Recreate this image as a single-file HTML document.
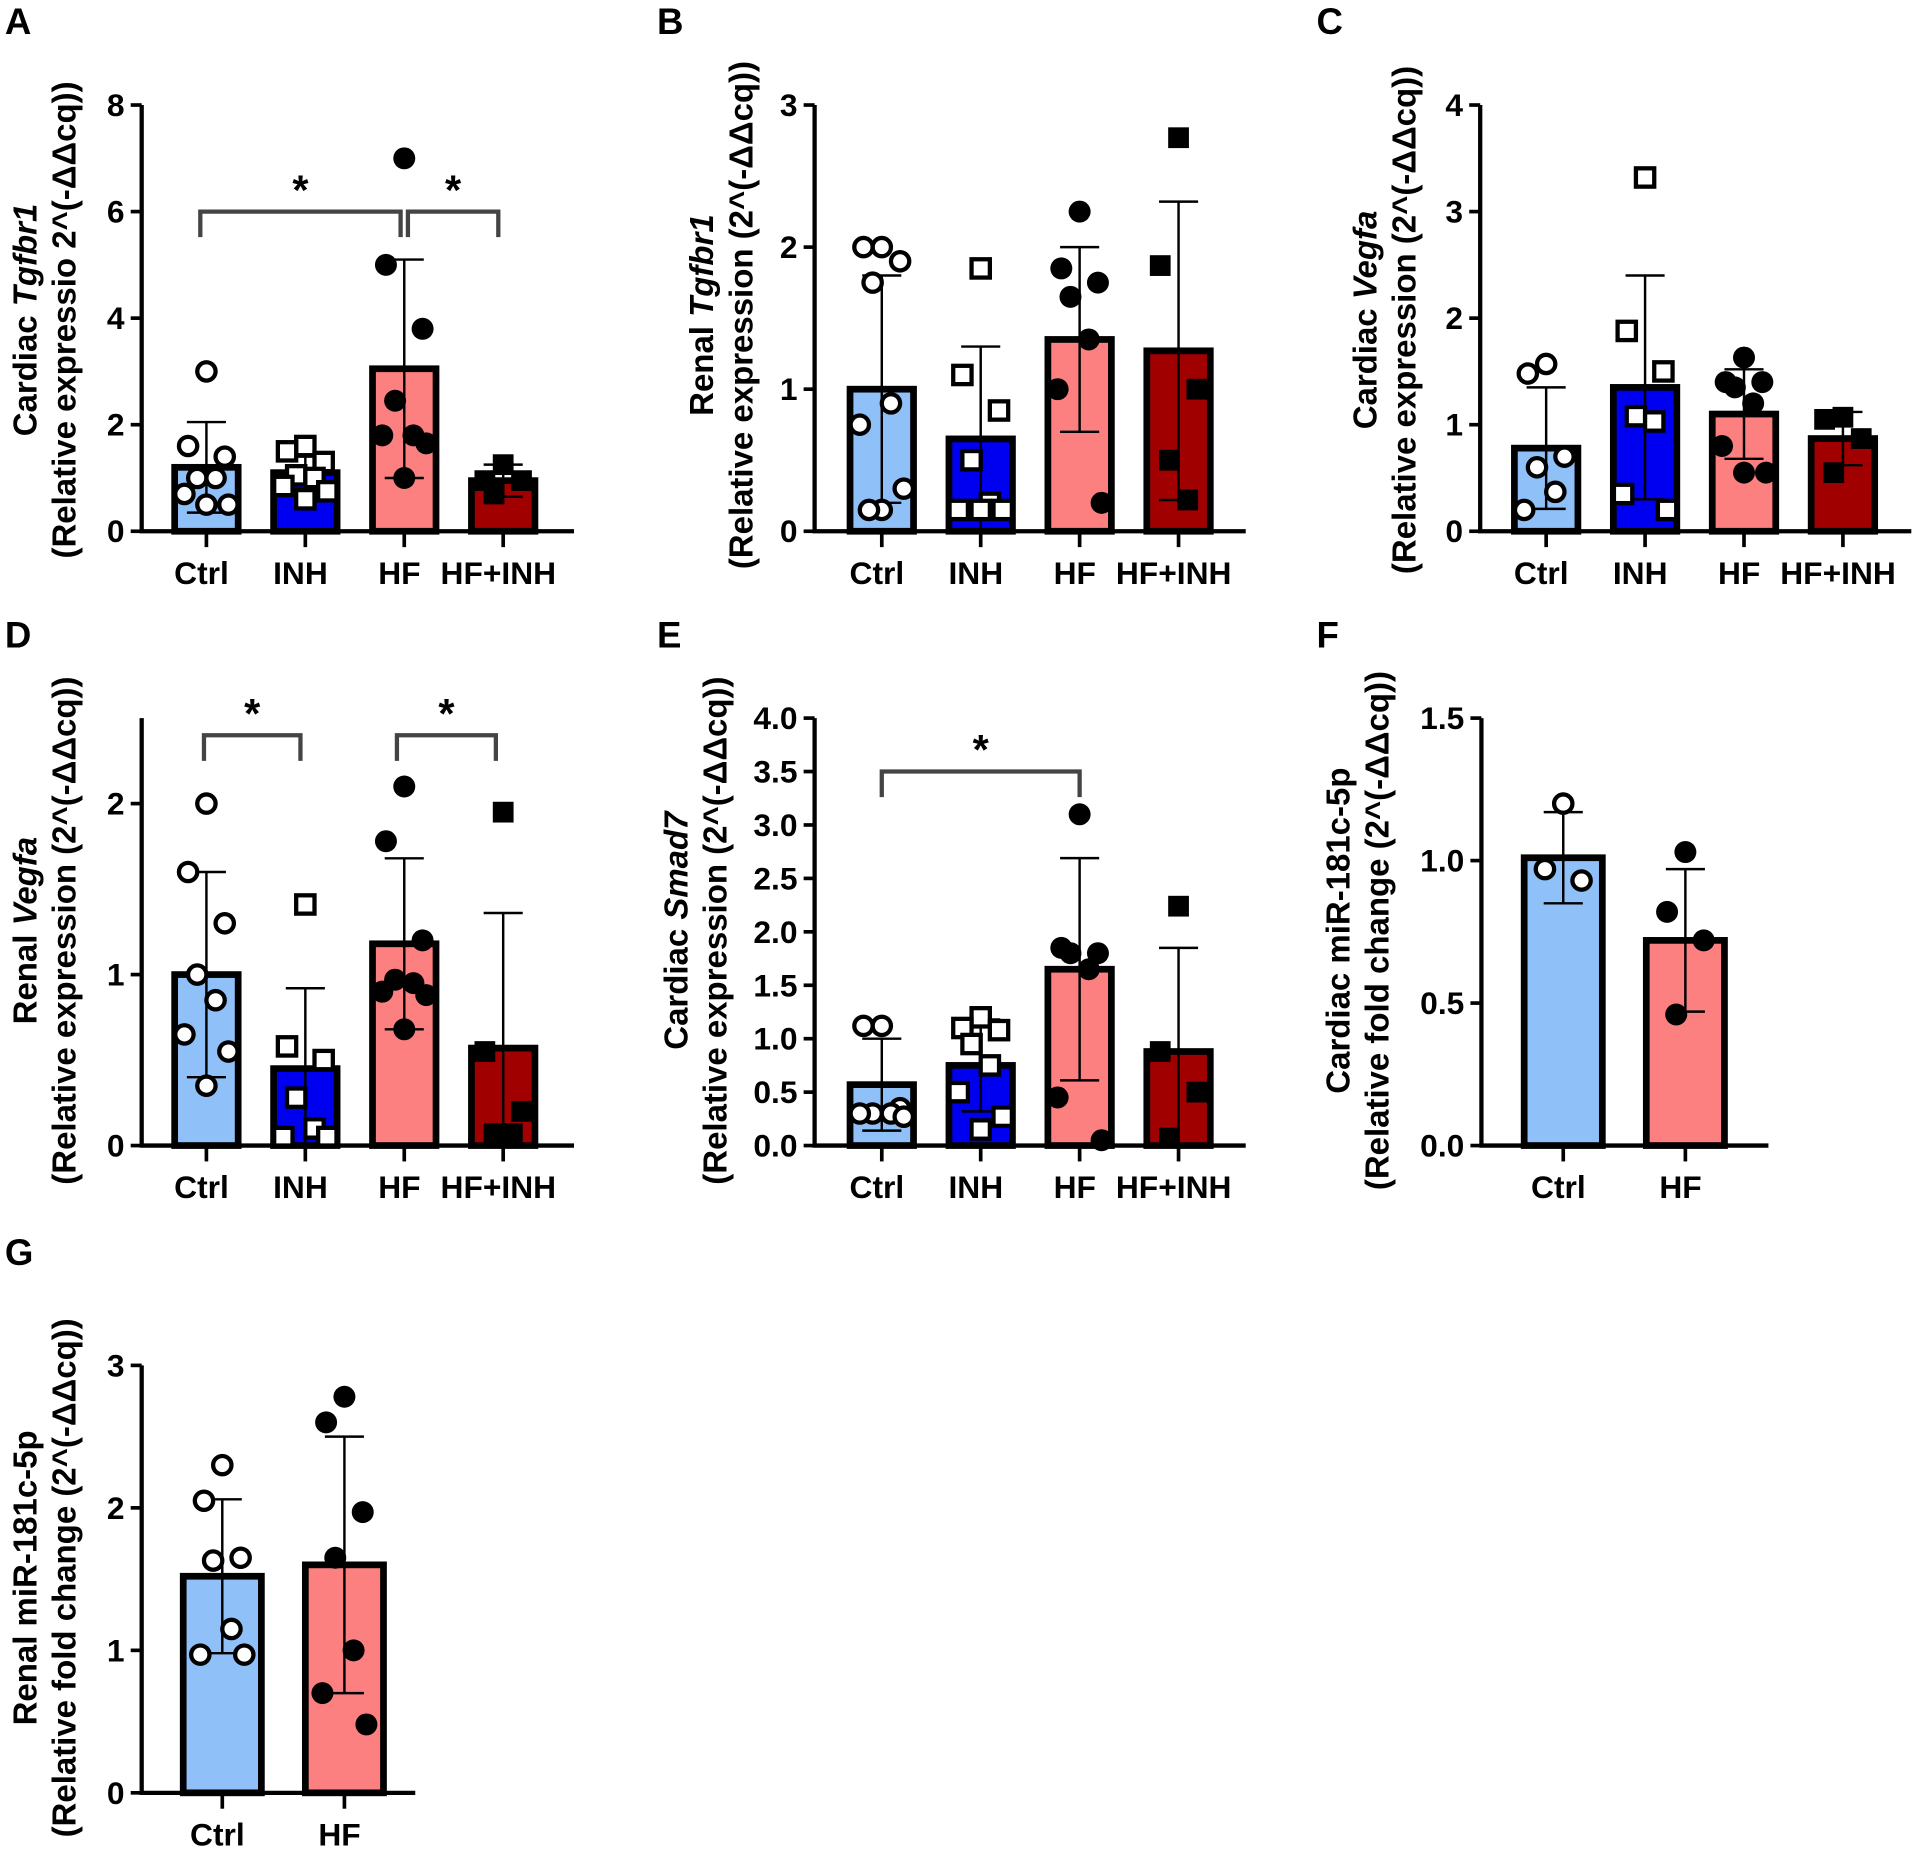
<!DOCTYPE html>
<html><head><meta charset="utf-8"><style>
html,body{margin:0;padding:0;background:#fff;}
svg{display:block;}
text{font-family:"Liberation Sans",Arial,sans-serif;font-weight:bold;fill:#000;}
</style></head><body>
<svg id="fig" width="1915" height="1860" viewBox="0 0 1568 1523" xmlns="http://www.w3.org/2000/svg"></svg>
<script>
// ---- data ----
const groups4 = ["Ctrl","INH","HF","HF+INH"];
const groups2 = ["Ctrl","HF"];
const aMeans = [1.2,1.1,3.05,0.95];
const aSD = [0.85,0.3,2.05,0.3];
const aPoints = [[3.0,1.6,1.4,1.0,1.0,0.7,0.5,0.5],[1.6,1.5,1.3,1.05,1.0,0.85,0.75,0.6],[7.0,5.0,3.8,2.45,1.8,1.8,1.65,1.0],[1.25,0.95,0.95,0.7]];
const bMeans = [1.0,0.65,1.35,1.27];
const bSD = [0.8,0.65,0.65,1.05];
const bPoints = [[2.0,2.0,1.9,1.75,0.9,0.75,0.3,0.15,0.15],[1.85,1.1,0.85,0.5,0.2,0.15,0.15,0.15],[2.25,1.85,1.75,1.65,1.35,1.0,0.2],[2.77,1.87,1.0,0.5,0.22]];
const cMeans = [0.78,1.35,1.1,0.87];
const cSD = [0.57,1.05,0.42,0.25];
const cPoints = [[1.57,1.48,0.7,0.6,0.37,0.2],[3.32,1.88,1.5,1.08,1.03,0.35,0.2],[1.63,1.4,1.4,1.35,1.2,0.8,0.55,0.55],[1.07,1.05,0.87,0.55]];
const dMeans = [1.0,0.45,1.18,0.57];
const dSD = [0.6,0.47,0.5,0.79];
const dPoints = [[2.0,1.6,1.3,1.0,0.85,0.65,0.55,0.35],[1.41,0.58,0.5,0.28,0.1,0.05,0.05],[2.1,1.78,1.2,0.97,0.95,0.9,0.88,0.68],[1.95,0.55,0.2,0.07,0.07]];
const eMeans = [0.57,0.75,1.65,0.88];
const eSD = [0.43,0.43,1.04,0.97];
const ePoints = [[1.12,1.12,0.35,0.3,0.3,0.3,0.27],[1.2,1.1,1.08,0.95,0.75,0.5,0.27,0.15],[3.1,1.85,1.8,1.8,1.65,0.45,0.05],[2.24,0.88,0.5,0.07]];
const fMeans = [1.01,0.72];
const fSD = [0.16,0.25];
const fPoints = [[1.2,0.97,0.93],[1.03,0.82,0.72,0.46]];
const gMeans = [1.52,1.6];
const gSD = [0.54,0.9];
const gPoints = [[2.3,2.05,1.65,1.63,1.15,0.97,0.97],[2.78,2.6,1.97,1.65,1.0,0.7,0.48]];
const aTicks = ["0","2","4","6","8"];
const bTicks = ["0","1","2","3"];
const cTicks = ["0","1","2","3","4"];
const dTicks = ["0","1","2"];
const eTicks = ["0.0","0.5","1.0","1.5","2.0","2.5","3.0","3.5","4.0"];
const fTicks = ["0.0","0.5","1.0","1.5"];
const gTicks = ["0","1","2","3"];

const NS="http://www.w3.org/2000/svg";
const svg=document.getElementById('fig');
const fills={"Ctrl":"#90c0f8","INH":"#0000f0","HF":"#fd8080","HF+INH":"#a00000"};
function mk(tag,attrs,parent){const e=document.createElementNS(NS,tag);for(const k in attrs)e.setAttribute(k,attrs[k]);(parent||svg).appendChild(e);return e;}

function panel(o){
  const g=mk('g',{});
  
  
  const y=v=>o.y0-(v/o.ymax)*(o.y0-o.ytop);
  const lab=mk('text',{x:o.lx,y:o.ly,'font-size':30},g);lab.textContent=o.letter;
  
  
  const t=mk('text',{transform:`translate(${o.tx},${o.tcy}) rotate(-90)`,'text-anchor':'middle','font-size':27},g);
  
  
  const s1=mk('tspan',{x:0,y:0},t);s1.textContent=o.t1a;
  if(o.t1b){const s2=mk('tspan',{'font-style':'italic'},t);s2.textContent=o.t1b;}
  const s3=mk('tspan',{x:0,y:32},t);s3.textContent=o.t2;
  o.groups.forEach((gname,i)=>{
    const cx=o.x1+i*o.dx, m=o.means[i];
    const bg=mk('g',{},g);
    
    
    mk('rect',{x:cx-o.bw/2,y:y(m),width:o.bw,height:o.y0-y(m),fill:fills[gname],stroke:'#000','stroke-width':5.5},bg);
    const sd=o.sd[i];
    mk('line',{x1:cx,x2:cx,y1:y(Math.max(0,m-sd)),y2:y(m+sd),stroke:'#000','stroke-width':2},bg);
    mk('line',{x1:cx-16,x2:cx+16,y1:y(m+sd),y2:y(m+sd),stroke:'#000','stroke-width':2},bg);
    if(m-sd>0.02*o.ymax)mk('line',{x1:cx-16,x2:cx+16,y1:y(m-sd),y2:y(m-sd),stroke:'#000','stroke-width':2},bg);
    const pts=o.points[i];
    pts.forEach((v,j)=>{
      const offs=[0,-20,20,-10,10,-24,24,0,-14,14];
      const px=cx+(pts.length>1?offs[j%offs.length]*0.75:0), py=y(v);
      let el;
      if(gname==="Ctrl") el=mk('circle',{cx:px,cy:py,r:7.5,fill:'#fff',stroke:'#000','stroke-width':3.5},bg);
      else if(gname==="INH") el=mk('rect',{x:px-7.5,y:py-7.5,width:15,height:15,fill:'#fff',stroke:'#000','stroke-width':3.5},bg);
      else if(gname==="HF") el=mk('circle',{cx:px,cy:py,r:9,fill:'#000'},bg);
      else el=mk('rect',{x:px-8.5,y:py-8.5,width:17,height:17,fill:'#000'},bg);
      
      
    });
    mk('line',{x1:cx,x2:cx,y1:o.y0,y2:o.y0+13,stroke:'#000','stroke-width':3},g);
    const xl=mk('text',{x:cx-4,y:o.y0+43,'text-anchor':'middle','font-size':26},g);xl.textContent=gname;
    
    
  });
  const ax=mk('path',{d:`M${o.ax},${o.ytop} L${o.ax},${o.y0} L${o.xend},${o.y0}`,fill:'none',stroke:'#000','stroke-width':3.5},g);
  
  
  o.ticks.forEach((tl)=>{
    const ty=y(parseFloat(tl));
    mk('line',{x1:o.ax-9,x2:o.ax,y1:ty,y2:ty,stroke:'#000','stroke-width':3},g);
    const tt=mk('text',{x:o.ax-14,y:ty+9,'text-anchor':'end','font-size':26},g);tt.textContent=tl;
    
    
  });
  (o.brackets||[]).forEach(b=>{
    const xa=o.x1+b[0]*o.dx+(b[3]||0), xb=o.x1+b[1]*o.dx+(b[4]||0), by=y(b[2]), drop=y(b[2]-o.ymax*0.06)-y(b[2]);
    const br=mk('path',{d:`M${xa},${by+drop} L${xa},${by} L${xb},${by} L${xb},${by+drop}`,fill:'none',stroke:'#444','stroke-width':3.5},g);
    
    
    const st=mk('text',{x:(xa+xb)/2,y:by-6,'text-anchor':'middle','font-size':34},g);st.textContent='*';
    
    
  });
}
const T2e="(Relative expression (2^(-ΔΔcq))";
const T2f="(Relative fold change (2^(-ΔΔcq))";
panel({letter:'A',lx:4,ly:28,tx:30,tcy:262,t1a:'Cardiac ',t1b:'Tgfbr1',t2:'(Relative expressio 2^(-ΔΔcq))',groups:groups4,means:aMeans,sd:aSD,points:aPoints,ticks:aTicks,ymax:8,ax:116,ytop:86,y0:435,xend:470,x1:169,dx:81,bw:52,brackets:[[0,2,6.0,-5,-3],[2,3,6.0,3,-4]]});
panel({letter:'B',lx:538,ly:28,tx:584,tcy:258,t1a:'Renal ',t1b:'Tgfbr1',t2:T2e,groups:groups4,means:bMeans,sd:bSD,points:bPoints,ticks:bTicks,ymax:3,ax:667,ytop:86,y0:435,xend:1020,x1:722,dx:81,bw:52});
panel({letter:'C',lx:1078,ly:28,tx:1127,tcy:262,t1a:'Cardiac ',t1b:'Vegfa',t2:T2e,groups:groups4,means:cMeans,sd:cSD,points:cPoints,ticks:cTicks,ymax:4,ax:1212,ytop:86,y0:435,xend:1565,x1:1266,dx:81,bw:52});
panel({letter:'D',lx:4,ly:530,tx:30,tcy:762,t1a:'Renal ',t1b:'Vegfa',t2:T2e,groups:groups4,means:dMeans,sd:dSD,points:dPoints,ticks:dTicks,ymax:2.5,ax:116,ytop:588,y0:938,xend:470,x1:169,dx:81,bw:52,brackets:[[0,1,2.4,-2,-4],[2,3,2.4,-6,-6]]});
panel({letter:'E',lx:538,ly:530,tx:563,tcy:762,t1a:'Cardiac ',t1b:'Smad7',t2:T2e,groups:groups4,means:eMeans,sd:eSD,points:ePoints,ticks:eTicks,ymax:4,ax:667,ytop:588,y0:938,xend:1020,x1:722,dx:81,bw:52,brackets:[[0,2,3.5,0,0]]});
panel({letter:'F',lx:1078,ly:530,tx:1105,tcy:762,t1a:'Cardiac miR-181c-5p',t1b:'',t2:T2f,groups:groups2,means:fMeans,sd:fSD,points:fPoints,ticks:fTicks,ymax:1.5,ax:1213,ytop:588,y0:938,xend:1448,x1:1280,dx:100,bw:64});
panel({letter:'G',lx:4,ly:1036,tx:30,tcy:1292,t1a:'Renal miR-181c-5p',t1b:'',t2:T2f,groups:groups2,means:gMeans,sd:gSD,points:gPoints,ticks:gTicks,ymax:3,ax:116,ytop:1118,y0:1468,xend:340,x1:182,dx:100,bw:64});
</script>
</body></html>
